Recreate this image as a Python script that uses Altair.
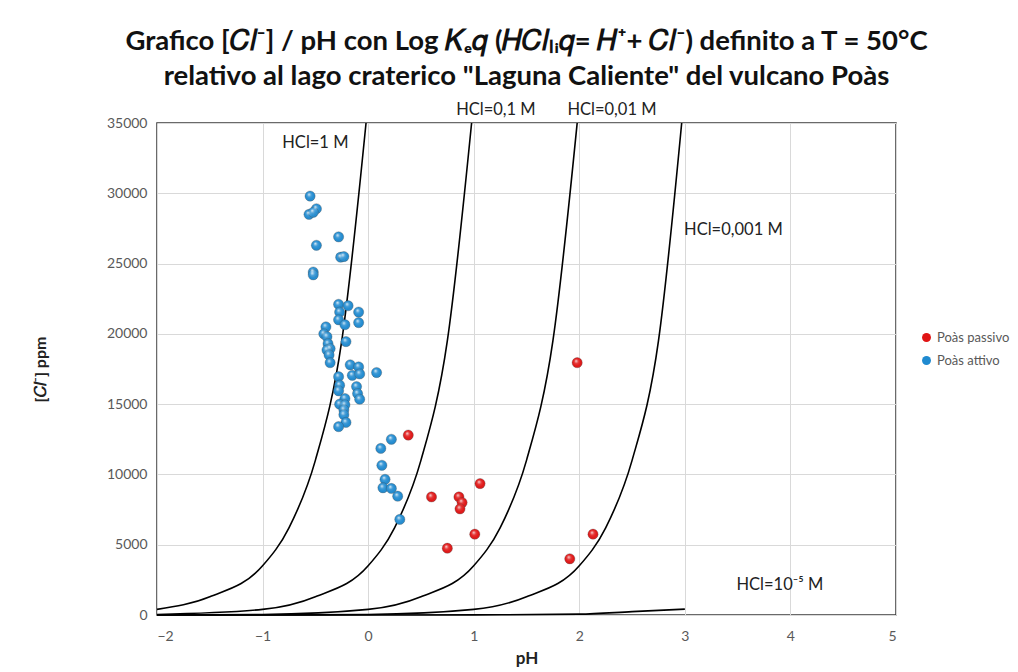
import altair as alt
import pandas as pd

# ---- curve data (pH, [Cl-] ppm) ----
curve_names = ["HCl=1 M", "HCl=0,1 M", "HCl=0,01 M", "HCl=0,001 M", "HCl=10⁻⁵ M"]
c1_ph = [-2.0, -1.5, -1.0, -0.75, -0.5, -0.25, -0.02]
c1_ppm = [400, 1300, 3500, 6200, 11000, 19500, 35000]
c2_ph = [-2.0, -1.0, -0.5, 0.0, 0.25, 0.5, 0.75, 0.98]
c2_ppm = [40, 400, 1300, 3500, 6200, 11000, 19500, 35000]
c3_ph = [-2.0, -1.0, 0.0, 0.5, 1.0, 1.25, 1.5, 1.75, 1.98]
c3_ppm = [4, 40, 400, 1300, 3500, 6200, 11000, 19500, 35000]
c4_ph = [-2.0, -1.0, 0.0, 1.0, 1.5, 2.0, 2.25, 2.5, 2.75, 2.97]
c4_ppm = [0, 4, 40, 400, 1300, 3500, 6200, 11000, 19500, 35000]
c5_ph = [-2.0, 0.0, 1.0, 2.0, 2.5, 3.0]
c5_ppm = [0, 0, 10, 60, 240, 420]

# ---- sample points ----
passivo_ph = [0.38, 0.60, 0.75, 1.98, 1.06, 0.86, 0.89, 0.87, 1.01, 2.13, 1.91]
passivo_ppm = [12800, 8400, 4750, 17950, 9350, 8400, 8000, 7550, 5750, 5750, 4000]

attivo_ph = [-0.55, -0.49, -0.56, -0.52, -0.28, -0.49, -0.26, -0.23, -0.52, -0.52,
             -0.28, -0.19, -0.09, -0.27, -0.28, -0.22, -0.09, -0.40, -0.42, -0.39,
             -0.21, -0.38, -0.36, -0.39, -0.37, -0.36, -0.17, -0.09, 0.08, -0.28,
             -0.15, -0.08, -0.27, -0.28, -0.11, -0.10, -0.08, -0.22, -0.27, -0.22,
             -0.23, -0.23, -0.21, -0.28, 0.22, 0.12, 0.13, 0.16, 0.14, 0.22,
             0.28, 0.30]
attivo_ppm = [29800, 28900, 28500, 28650, 26900, 26300, 25450, 25500, 24400, 24200,
              22100, 22000, 21550, 21550, 21000, 20650, 20800, 20500, 20000, 19800,
              19450, 19300, 18950, 18850, 18500, 17950, 17800, 17650, 17250, 16950,
              17050, 17150, 16350, 15950, 16250, 15750, 15350, 15400, 15000, 14950,
              14600, 14250, 13700, 13400, 12500, 11850, 10650, 9650, 9050, 9000,
              8450, 6800]

series_names = ["Poàs passivo", "Poàs attivo"]
series_colors = ["#e01414", "#1f8ad0"]

# ---- curve labels ----
label_ph = [-0.5, 1.21, 2.31, 3.46, 3.90]
label_ppm = [33600, 35950, 35950, 27400, 2150]

# ---- build tables ----
curve_rows = []
for name, phs, vals in zip(curve_names, [c1_ph, c2_ph, c3_ph, c4_ph, c5_ph],
                           [c1_ppm, c2_ppm, c3_ppm, c4_ppm, c5_ppm]):
    for i, (p, v) in enumerate(zip(phs, vals)):
        curve_rows.append({"curve": name, "pH": p, "ppm": v, "order": i})
curves_df = pd.DataFrame(curve_rows)

pts_df = pd.DataFrame(
    [{"serie": series_names[0], "pH": p, "ppm": v} for p, v in zip(passivo_ph, passivo_ppm)]
    + [{"serie": series_names[1], "pH": p, "ppm": v} for p, v in zip(attivo_ph, attivo_ppm)]
)
labels_df = pd.DataFrame({"text": curve_names, "pH": label_ph, "ppm": label_ppm})

x_scale = alt.Scale(domain=[-2, 5], nice=False, zero=False)
y_scale = alt.Scale(domain=[0, 35000], nice=False)

x_axis = alt.Axis(values=[-2, -1, 0, 1, 2, 3, 4, 5], title="pH", titleFontSize=17,
                  titleFontWeight="bold", titleColor="#222", titlePadding=7,
                  labelPadding=14, format="d")
y_axis = alt.Axis(values=[0, 5000, 10000, 15000, 20000, 25000, 30000, 35000],
                  title="[𝐶𝑙⁻] ppm", titleFontSize=16, titleFontWeight="bold",
                  titleColor="#222", titlePadding=58, labelPadding=10, format="d")

lines = alt.Chart(curves_df).mark_line(color="black", strokeWidth=1.6,
                                       interpolate="monotone").encode(
    x=alt.X("pH:Q", scale=x_scale, axis=x_axis),
    y=alt.Y("ppm:Q", scale=y_scale, axis=y_axis),
    detail="curve:N",
    order="order:Q",
)

base_pts = alt.Chart(pts_df).mark_circle(size=105, opacity=1, stroke="#333333",
                                         strokeOpacity=0.45, strokeWidth=0.6).encode(
    x=alt.X("pH:Q", scale=x_scale),
    y=alt.Y("ppm:Q", scale=y_scale),
    color=alt.Color("serie:N", scale=alt.Scale(domain=series_names, range=series_colors),
                    legend=alt.Legend(title=None, orient="none", legendX=763, legendY=208,
                                      symbolType="circle", symbolSize=80,
                                      labelFont="Lato", labelFontSize=13,
                                      labelColor="#595959", rowPadding=9,
                                      labelOffset=4, symbolStrokeWidth=0)),
)

highlight = alt.Chart(pts_df).mark_circle(
    size=105, opacity=1, strokeWidth=0,
    fill=alt.RadialGradient(
        gradient="radial", x1=0.38, y1=0.32, r1=0.0, x2=0.5, y2=0.5, r2=0.6,
        stops=[alt.GradientStop(color="rgba(255,255,255,0.85)", offset=0),
               alt.GradientStop(color="rgba(255,255,255,0.15)", offset=0.35),
               alt.GradientStop(color="rgba(255,255,255,0)", offset=0.7),
               alt.GradientStop(color="rgba(0,0,0,0.3)", offset=1)]),
).encode(
    x=alt.X("pH:Q", scale=x_scale),
    y=alt.Y("ppm:Q", scale=y_scale),
)

texts = alt.Chart(labels_df).mark_text(font="Lato", fontSize=16.5, color="#222",
                                       align="center", baseline="middle",
                                       clip=False).encode(
    x=alt.X("pH:Q", scale=x_scale),
    y=alt.Y("ppm:Q", scale=y_scale),
    text="text:N",
)

title = alt.TitleParams(
    text=["Grafico [𝐶𝑙⁻] / pH con Log 𝐾ₑ𝑞 (𝐻𝐶𝑙ₗᵢ𝑞= 𝐻⁺+ 𝐶𝑙⁻) definito a T = 50°C",
          "relativo al lago craterico \"Laguna Caliente\" del vulcano Poàs"],
    font="Lato", fontSize=27.5, fontWeight="bold", color="#111", anchor="middle",
    lineHeight=35, offset=11,
)

chart = alt.layer(lines, base_pts, highlight, texts).properties(
    width=739, height=492, title=title,
    autosize=alt.AutoSizeParams(type="none"),
    padding={"left": 149, "top": 115, "right": 114, "bottom": 55},
).configure_view(
    stroke="#3a3a3a", strokeWidth=1.5,
).configure_axis(
    labelFont="Lato", labelFontSize=14, labelColor="#595959",
    titleFont="Lato", grid=True, gridColor="#d9d9d9", gridWidth=1,
    ticks=False, domain=False,
)

chart.save("out.html", embed_options={"renderer": "svg", "actions": False})
